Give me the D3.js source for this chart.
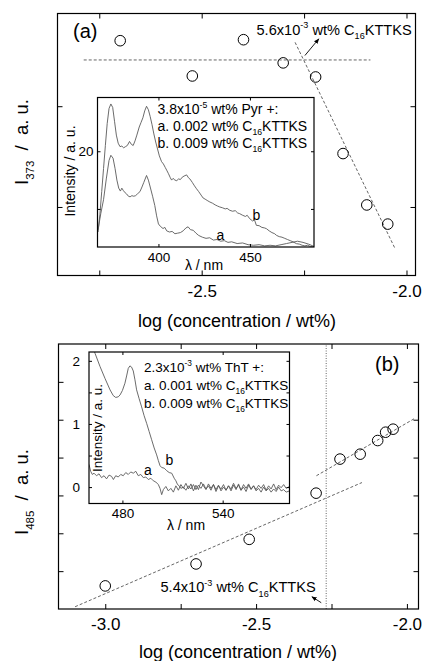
<!DOCTYPE html>
<html>
<head>
<meta charset="utf-8">
<script src="https://cdn.jsdelivr.net/npm/d3@7"></script>
<style>
  body { margin: 0; background: #fff; }
  svg { display: block; font-family: 'Liberation Sans', Arial, Helvetica, sans-serif; }
</style>
</head>
<body>
<svg id="fig" width="424" height="661"></svg>
<script>
// ---- panel (a): pyrene I373 vs log concentration ----
const concA = [0.002, 0.003, 0.004, 0.005, 0.006, 0.007, 0.008, 0.009];
const i373 = [2.65, 2.30, 2.66, 2.43, 2.29, 1.53, 1.02, 0.83];
const fitA1 = [[-2.788, 2.459], [-2.088, 2.459]];
const fitA2 = [[-2.272, 2.634], [-2.028, 0.588]];
const arrowA = [[-2.248, 2.503], [-2.214, 2.669]];

// ---- panel (b): ThT I485 vs log concentration ----
const concB = [0.001, 0.002, 0.003, 0.005, 0.006, 0.007, 0.008, 0.0085, 0.009];
const i485 = [0.61, 1.19, 1.84, 3.06, 3.96, 4.09, 4.45, 4.67, 4.75];
const fitB1 = [[-3.100, 0.06], [-2.149, 3.34]];
const fitB2 = [[-2.300, 3.52], [-1.973, 5.04]];
const cacB = 0.0054;
const arrowB = [[-2.284, 0.166], [-2.315, 0.325]];

// ---- inset (a): pyrene spectra [nm, intensity] ----
const pyrA = [[367.0,13.2],[368.5,14.6],[370.0,15.8],[371.5,17.6],[373.0,19.2],[374.0,19.65],[375.2,19.4],
  [376.3,18.5],[377.3,17.5],[378.3,16.8],[379.2,16.55],[380.0,16.8],[380.8,16.6],[381.8,16.4],[382.6,16.3],
  [383.6,16.1],[384.5,16.05],[385.5,16.15],[386.5,16.1],[387.5,16.15],[388.5,16.3],[389.9,16.5],[391.0,16.9],
  [392.0,17.3],[393.5,17.9],[394.5,17.5],[395.5,16.9],[396.8,16.1],[398.0,15.3],[399.0,14.4],[400.0,13.7],
  [401.0,13.5],[402.5,13.3],[403.5,13.4],[404.5,13.1],[406.0,13.0],[407.5,13.05],[409.0,12.85],[410.5,12.9],
  [412.0,12.95],[413.5,13.1],[415.0,13.35],[416.2,13.45],[417.5,13.2],[419.0,13.15],[420.5,12.9],[422.0,12.7],
  [424.0,12.55],[426.0,12.45],[428.0,12.5],[430.0,12.3],[432.0,12.35],[434.0,12.2],[436.0,12.25],[438.0,12.1],
  [440.0,12.15],[443.0,12.0],[446.0,12.05],[449.0,11.9],[452.0,11.85],[455.0,11.9],[458.0,11.8],[461.0,11.85],
  [464.0,11.8],[467.0,11.9],[470.0,12.0],[473.0,12.1],[476.0,12.2],[479.0,12.1],[482.0,11.95],[485.0,11.75]];
const pyrB = [[367.0,13.0],[368.0,14.5],[369.0,16.5],[370.0,18.5],[371.0,20.5],[372.0,22.4],[373.0,23.7],
  [374.0,24.1],[375.0,23.8],[376.0,22.6],[377.0,21.4],[378.0,20.7],[379.0,20.4],[380.0,20.45],[381.0,20.3],
  [382.0,20.4],[383.0,20.5],[384.2,20.85],[385.2,20.6],[386.2,20.5],[387.2,20.9],[388.2,21.4],[389.5,22.1],
  [390.5,22.5],[391.5,22.9],[392.5,23.5],[393.5,23.9],[394.5,23.6],[395.5,23.0],[396.5,22.3],[397.5,21.5],
  [398.5,20.8],[399.5,20.2],[400.5,19.6],[401.7,19.1],[402.7,18.9],[403.7,18.6],[404.7,18.3],[405.5,18.05],
  [406.5,17.7],[407.2,17.5],[408.0,17.65],[409.0,17.5],[410.0,17.45],[411.0,17.6],[412.0,17.55],[413.0,17.75],
  [414.0,17.85],[415.4,17.95],[416.4,17.7],[417.2,17.6],[418.5,17.3],[419.7,17.0],[420.8,16.75],[422.0,16.5],
  [423.3,16.2],[424.4,15.95],[425.5,15.85],[427.0,15.7],[428.1,15.6],[429.5,15.5],[431.0,15.35],[432.3,15.25],
  [433.5,15.17],[435.0,15.1],[436.5,15.0],[437.5,15.05],[439.0,14.88],[440.5,14.8],[442.0,14.85],[443.3,14.65],
  [444.4,14.59],[446.0,14.45],[447.5,14.35],[448.5,14.45],[449.9,14.15],[451.5,13.95],[452.5,14.05],[453.5,13.58],
  [455.0,13.55],[456.5,13.4],[458.0,13.35],[459.0,13.29],[460.5,13.1],[462.0,12.95],[463.5,12.85],[464.5,12.71],
  [466.0,12.6],[467.5,12.55],[469.0,12.45],[470.5,12.35],[472.0,12.25],[473.5,12.15],[475.4,11.99],[477.0,11.95],
  [478.5,11.85],[480.0,11.8],[481.5,11.85],[483.0,11.75],[485.0,11.7]];

// ---- inset (b): ThT spectra [nm, intensity] ----
const thtA = [[460.0,0.36],[461.0,0.25],[462.0,0.20],[463.0,0.22],[464.5,0.18],[466.0,0.21],[467.5,0.15],
  [469.0,0.18],[470.5,0.13],[472.0,0.19],[473.5,0.17],[474.6,0.12],[476.0,0.18],[477.5,0.16],[479.0,0.20],
  [480.5,0.18],[482.0,0.23],[483.5,0.20],[485.0,0.24],[486.5,0.22],[488.0,0.25],[489.5,0.18],[491.0,0.20],
  [492.5,0.15],[494.0,0.16],[495.5,0.12],[497.0,0.14],[498.5,0.10],[500.0,0.08],[501.5,0.04],[502.5,-0.02],
  [503.5,-0.12],[504.5,-0.04],[506.0,0.01],[507.5,-0.06],[509.0,-0.02],[510.5,-0.08],[512.0,0.02],[513.5,-0.05],
  [515.0,0.04],[516.5,-0.02],[518.0,0.06],[519.5,-0.03],[521.0,0.05],[522.5,-0.06],[524.0,0.03],[525.5,-0.04],
  [527.0,0.08],[528.5,0.02],[530.0,-0.04],[531.5,0.05],[533.0,-0.02],[534.5,0.04],[536.0,-0.07],[537.5,0.02],
  [539.0,-0.03],[540.5,0.04],[542.0,-0.05],[543.5,0.02],[545.0,-0.03],[546.5,0.06],[548.0,-0.02],[549.5,0.03],
  [551.0,-0.05],[552.5,0.04],[554.0,-0.02],[555.5,0.05],[557.0,-0.03],[558.5,0.02],[560.0,-0.04],[561.5,0.03],
  [563.0,-0.02],[564.5,0.04],[566.0,-0.05],[567.5,0.02],[569.0,-0.03],[570.5,0.05],[572.0,-0.04],[573.5,0.03],
  [575.0,-0.01],[576.5,0.04],[578.0,-0.02],[580.0,0.01]];
const thtB = [[461.0,2.35],[463.6,2.12],[466.6,1.91],[469.6,1.72],[472.6,1.54],[474.5,1.45],[476.0,1.42],
  [477.5,1.43],[478.6,1.46],[480.0,1.53],[481.5,1.645],[482.5,1.76],[483.5,1.88],[484.5,1.92],[485.5,1.90],
  [486.5,1.84],[487.5,1.70],[488.5,1.54],[490.0,1.40],[491.5,1.27],[493.0,1.13],[494.5,1.01],[496.0,0.88],
  [497.5,0.75],[499.0,0.62],[500.5,0.51],[501.5,0.42],[502.5,0.34],[503.5,0.31],[505.0,0.30],[506.5,0.26],
  [508.0,0.23],[509.5,0.22],[511.0,0.14],[512.0,0.10],[513.0,0.04],[514.0,0.02],[515.0,-0.02],[516.5,0.00],
  [518.0,-0.05],[519.5,0.02],[521.0,-0.03],[522.5,0.04],[524.0,-0.04],[525.5,0.03],[527.0,-0.02],[528.5,0.05],
  [530.0,-0.03],[531.5,0.02],[533.0,-0.05],[534.5,0.04],[536.0,-0.04],[537.5,0.03],[539.0,-0.06],[540.5,0.00],
  [542.0,-0.05],[543.5,0.02],[545.0,-0.06],[546.5,0.03],[548.0,-0.04],[549.5,0.05],[551.0,-0.05],[552.5,0.00],
  [554.0,-0.07],[555.5,0.03],[557.0,-0.04],[558.5,0.02],[560.0,-0.06],[561.5,-0.02],[563.0,-0.08],[564.5,0.00],
  [566.0,-0.06],[567.5,-0.02],[569.0,-0.08],[570.5,-0.03],[572.0,-0.07],[573.5,0.00],[575.0,-0.06],[576.5,-0.04],
  [578.0,-0.08],[580.0,-0.06]];

const svg = d3.select("#fig");
const lineGray = "#555";

svg.append("defs").append("marker")
    .attr("id", "head")
    .attr("viewBox", "0 0 10 10")
    .attr("refX", 9).attr("refY", 5)
    .attr("markerWidth", 6).attr("markerHeight", 6)
    .attr("orient", "auto")
    .append("path")
    .attr("d", "M0,1 L10,5 L0,9 Z")
    .attr("fill", "#000");

// text with sub/superscripts: parts = [[string, "n"|"sub"|"sup"], ...]
function richText(g, x, y, parts, size) {
    const t = g.append("text").attr("x", x).attr("y", y).attr("font-size", size).attr("fill", "#000");
    let shift = 0;
    parts.forEach(([s, k]) => {
        const target = k === "sub" ? size * 0.32 : k === "sup" ? -size * 0.42 : 0;
        t.append("tspan")
            .attr("dy", target - shift)
            .attr("font-size", k === "n" ? size : size * 0.62)
            .text(s);
        shift = target;
    });
    return t;
}

// frame with inward ticks on all four sides
function frame(g, x, y, o) {
    const [x0, x1] = x.range();
    const [y0, y1] = y.range();
    const fmt = (vals, f) => d => vals.includes(d) ? f(d) : "";

    g.append("g").attr("transform", `translate(0,${y0})`)
        .call(d3.axisBottom(x).tickValues(o.xt).tickFormat(fmt(o.xl, o.xf))
            .tickSizeInner(-o.ts).tickSizeOuter(0).tickPadding(o.xpad))
        .call(a => a.select(".domain").remove())
        .call(a => a.selectAll("text").attr("font-size", o.fs).attr("fill", "#000").attr("font-family", null));
    g.append("g").attr("transform", `translate(0,${y1})`)
        .call(d3.axisTop(x).tickValues(o.xt).tickFormat("").tickSizeInner(-o.ts).tickSizeOuter(0))
        .call(a => a.select(".domain").remove());
    g.append("g").attr("transform", `translate(${x0},0)`)
        .call(d3.axisLeft(y).tickValues(o.yt).tickFormat(fmt(o.yl || [], o.yf || String))
            .tickSizeInner(-o.ts).tickSizeOuter(0).tickPadding(o.ypad || 3))
        .call(a => a.select(".domain").remove())
        .call(a => a.selectAll("text").attr("font-size", o.fs).attr("fill", "#000").attr("font-family", null));
    g.append("g").attr("transform", `translate(${x1},0)`)
        .call(d3.axisRight(y).tickValues(o.yt).tickFormat("").tickSizeInner(-o.ts).tickSizeOuter(0))
        .call(a => a.select(".domain").remove());
    g.selectAll(".tick line").attr("stroke", "#000");

    g.append("rect")
        .attr("x", x0).attr("y", y1)
        .attr("width", x1 - x0).attr("height", y0 - y1)
        .attr("fill", "none").attr("stroke", "#000").attr("stroke-width", 1.2);
}

function dashed(g, x, y, pts, dash) {
    g.append("path")
        .attr("d", d3.line().x(d => x(d[0])).y(d => y(d[1]))(pts))
        .attr("fill", "none")
        .attr("stroke", lineGray)
        .attr("stroke-width", 0.9)
        .attr("stroke-dasharray", dash);
}

function arrow(g, x, y, pts) {
    g.append("line")
        .attr("x1", x(pts[0][0])).attr("y1", y(pts[0][1]))
        .attr("x2", x(pts[1][0])).attr("y2", y(pts[1][1]))
        .attr("stroke", "#000").attr("stroke-width", 0.9)
        .attr("marker-end", "url(#head)");
}

function spectrum(g, x, y, data, clipId) {
    g.append("path")
        .attr("d", d3.line().x(d => x(d[0])).y(d => y(d[1]))(data))
        .attr("fill", "none")
        .attr("stroke", "#5a5a5a")
        .attr("stroke-width", 0.9)
        .attr("clip-path", `url(#${clipId})`);
}

function inset(g, x, y, id) {
    const [x0, x1] = x.range();
    const [y0, y1] = y.range();
    svg.select("defs").append("clipPath").attr("id", id)
        .append("rect").attr("x", x0).attr("y", y1).attr("width", x1 - x0).attr("height", y0 - y1);
    g.append("rect").attr("x", x0).attr("y", y1).attr("width", x1 - x0).attr("height", y0 - y1).attr("fill", "#fff");
}

const logc = d => Math.log10(d);

// ================= panel (a) =================
const ga = svg.append("g");
const xA = d3.scaleLinear().domain([-2.852, -1.978]).range([57.5, 415.5]);
const yA = d3.scaleLinear().domain([0.32, 2.92]).range([275.5, 13.5]);

dashed(ga, xA, yA, fitA1, "3,2");
dashed(ga, xA, yA, fitA2, "3,2");

ga.selectAll("circle")
    .data(concA)
    .enter()
    .append("circle")
    .attr("cx", d => xA(logc(d)))
    .attr("cy", (d, i) => yA(i373[i]))
    .attr("r", 5.3)
    .attr("fill", "none")
    .attr("stroke", "#000")
    .attr("stroke-width", 1);

frame(ga, xA, yA, {
    xt: [-2.75, -2.5, -2.25, -2.0], xl: [-2.5, -2.0], xf: d => d.toFixed(1),
    yt: [1, 2], ts: 5, fs: 17, xpad: 9
});

arrow(ga, xA, yA, arrowA);
richText(ga, 256.5, 34.5, [["5.6x10", "n"], ["-3", "sup"], [" wt% C", "n"], ["16", "sub"], ["KTTKS", "n"]], 14.6);
ga.append("text").attr("x", 73).attr("y", 38).attr("font-size", 20).text("(a)");

richText(ga, 0, 0, [["I", "n"], ["373", "sub"], ["  /  a. u.", "n"]], 18.5)
    .attr("transform", "translate(28,142) rotate(-90)")
    .attr("text-anchor", "middle")
    .attr("xml:space", "preserve");
ga.append("text").attr("x", 237).attr("y", 327).attr("text-anchor", "middle")
    .attr("font-size", 18).text("log (concentration / wt%)");

// inset (a)
const xIa = d3.scaleLinear().domain([366.7, 485]).range([97.5, 314]);
const yIa = d3.scaleLinear().domain([11.7, 24.66]).range([247, 97.5]);
inset(ga, xIa, yIa, "clipA");
spectrum(ga, xIa, yIa, pyrA, "clipA");
spectrum(ga, xIa, yIa, pyrB, "clipA");
frame(ga, xIa, yIa, {
    xt: [400, 450], xl: [400, 450], xf: String,
    yt: [15, 20], yl: [20], yf: String, ts: 3, fs: 13.5, xpad: 5, ypad: 4
});
ga.append("text").attr("x", 220.5).attr("y", 239.5).attr("text-anchor", "middle").attr("font-size", 14).text("a");
ga.append("text").attr("x", 256.5).attr("y", 220).attr("text-anchor", "middle").attr("font-size", 14).text("b");
richText(ga, 157.5, 113.5, [["3.8x10", "n"], ["-5", "sup"], [" wt% Pyr +:", "n"]], 14);
richText(ga, 157.5, 130.5, [["a. 0.002 wt% C", "n"], ["16", "sub"], ["KTTKS", "n"]], 14);
richText(ga, 157.5, 147.5, [["b. 0.009 wt% C", "n"], ["16", "sub"], ["KTTKS", "n"]], 14);
ga.append("text").attr("transform", "translate(75,171) rotate(-90)").attr("text-anchor", "middle")
    .attr("font-size", 14).text("Intensity / a. u.");
ga.append("text").attr("x", 204).attr("y", 270).attr("text-anchor", "middle")
    .attr("font-size", 14).text("λ / nm");

// ================= panel (b) =================
const gb = svg.append("g");
const xB = d3.scaleLinear().domain([-3.155, -1.9616]).range([58.5, 418.5]);
const yB = d3.scaleLinear().domain([0, 7]).range([609, 344]);

dashed(gb, xB, yB, fitB1, "3,2");
dashed(gb, xB, yB, fitB2, "3,2");
dashed(gb, xB, yB, [[logc(cacB), 0], [logc(cacB), 7]], "1,1.5");

gb.selectAll("circle")
    .data(concB)
    .enter()
    .append("circle")
    .attr("cx", d => xB(logc(d)))
    .attr("cy", (d, i) => yB(i485[i]))
    .attr("r", 5.3)
    .attr("fill", "none")
    .attr("stroke", "#000")
    .attr("stroke-width", 1);

frame(gb, xB, yB, {
    xt: [-3.0, -2.75, -2.5, -2.25, -2.0], xl: [-3.0, -2.5, -2.0], xf: d => d.toFixed(1),
    yt: [1, 2, 3, 4, 5, 6], ts: 5, fs: 17, xpad: 9
});

arrow(gb, xB, yB, arrowB);
richText(gb, 160.5, 592, [["5.4x10", "n"], ["-3", "sup"], [" wt% C", "n"], ["16", "sub"], ["KTTKS", "n"]], 14.6);
gb.append("text").attr("x", 375).attr("y", 371).attr("font-size", 20).text("(b)");

richText(gb, 0, 0, [["I", "n"], ["485", "sub"], ["  /  a. u.", "n"]], 18.5)
    .attr("transform", "translate(28,492) rotate(-90)")
    .attr("text-anchor", "middle")
    .attr("xml:space", "preserve");
gb.append("text").attr("x", 238).attr("y", 658).attr("text-anchor", "middle")
    .attr("font-size", 18).text("log (concentration / wt%)");

// inset (b)
const xIb = d3.scaleLinear().domain([460, 580]).range([89, 289.5]);
const yIb = d3.scaleLinear().domain([-0.26, 2.14]).range([503.5, 352]);
inset(gb, xIb, yIb, "clipB");
spectrum(gb, xIb, yIb, thtA, "clipB");
spectrum(gb, xIb, yIb, thtB, "clipB");
frame(gb, xIb, yIb, {
    xt: [480, 540], xl: [480, 540], xf: String,
    yt: [0, 0.5, 1, 1.5, 2], yl: [0, 1, 2], yf: String, ts: 3, fs: 13.5, xpad: 5, ypad: 9
});
gb.append("text").attr("x", 148).attr("y", 475).attr("text-anchor", "middle").attr("font-size", 14).text("a");
gb.append("text").attr("x", 169.5).attr("y", 464.5).attr("text-anchor", "middle").attr("font-size", 14).text("b");
richText(gb, 144, 371.5, [["2.3x10", "n"], ["-3", "sup"], [" wt% ThT +:", "n"]], 13.5);
richText(gb, 144, 389.5, [["a. 0.001 wt% C", "n"], ["16", "sub"], ["KTTKS", "n"]], 13.5);
richText(gb, 144, 407.5, [["b. 0.009 wt% C", "n"], ["16", "sub"], ["KTTKS", "n"]], 13.5);
gb.append("text").attr("transform", "translate(101.5,428) rotate(-90)").attr("text-anchor", "middle")
    .attr("font-size", 13.5).text("Intensity / a. u.");
gb.append("text").attr("x", 186).attr("y", 530).attr("text-anchor", "middle")
    .attr("font-size", 14).text("λ / nm");
</script>
</body>
</html>
